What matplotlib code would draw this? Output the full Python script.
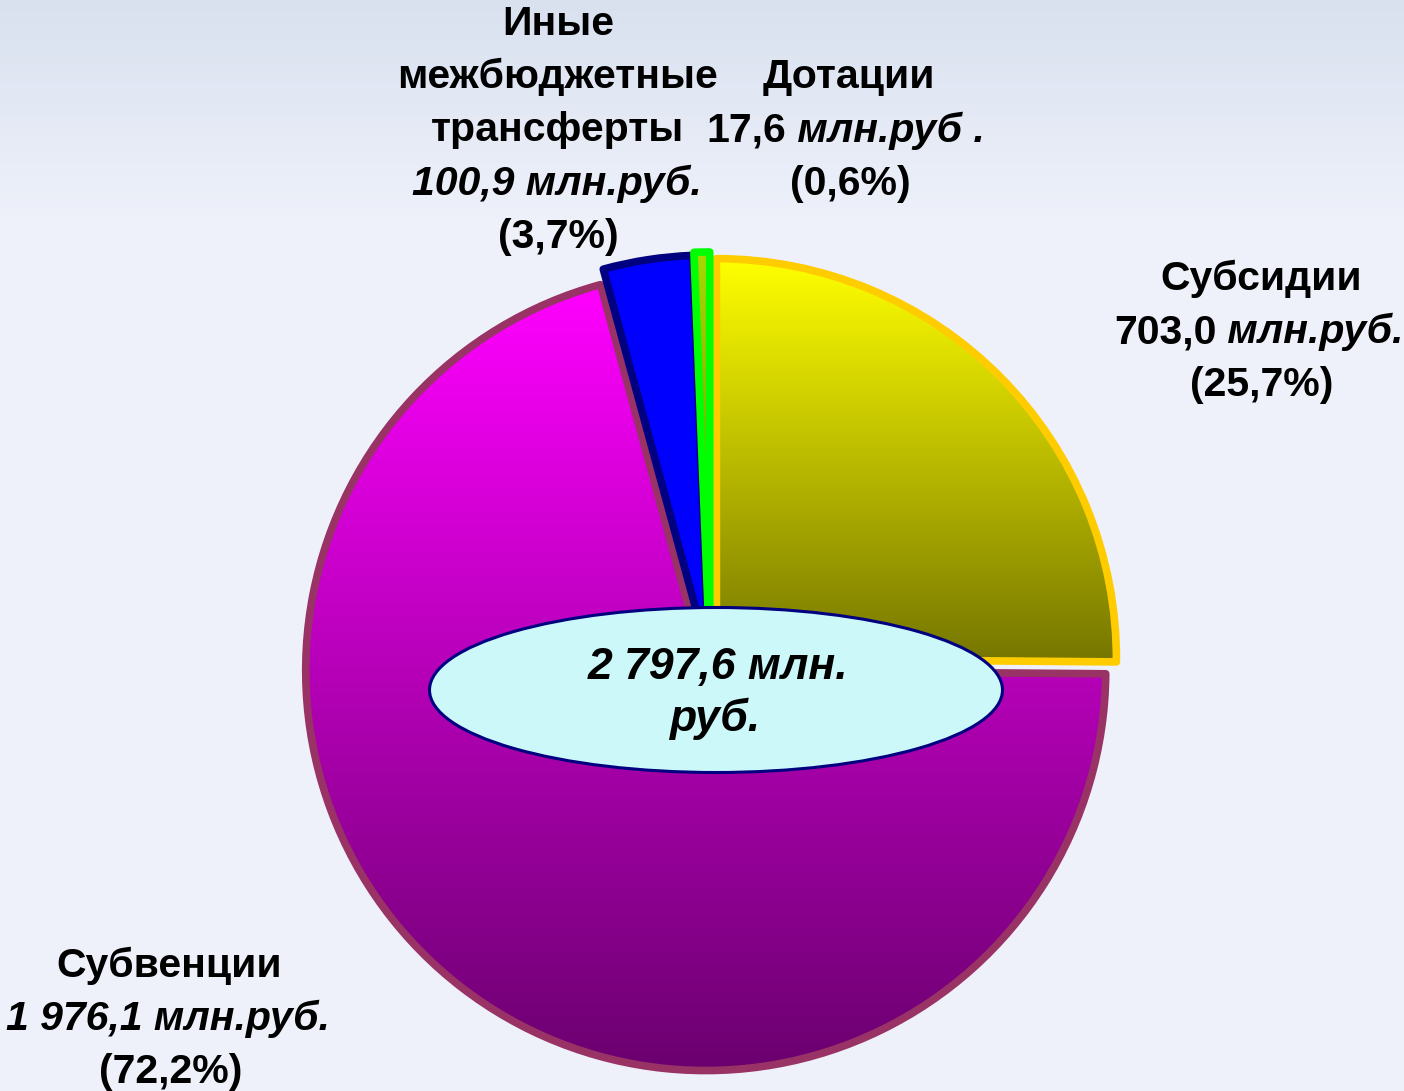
import numpy as np
import matplotlib
matplotlib.use('Agg')
import matplotlib.pyplot as plt
from matplotlib.patches import Ellipse
from matplotlib.colors import to_rgb

plt.rcParams['font.family'] = ['Liberation Sans', 'DejaVu Sans']

# data
names = ['Субсидии', 'Субвенции', 'Иные межбюджетные трансферты', 'Дотации']
values = [703.0, 1976.1, 100.9, 17.6]
amounts = ['703,0', '1 976,1', '100,9', '17,6']
shares = ['25,7%', '72,2%', '3,7%', '0,6%']
total = '2 797,6'

# styles
top_colors = ['#FFFF00', '#FF00FF', '#0000FF', '#A8D800']
bottom_colors = ['#767600', '#6A006E', '#0000FF', '#5E8A00']
edge_colors = ['#FFCC00', '#993366', '#000080', '#00FF00']
explode = [9, 7, 10, 13]

W, H = 1404, 1091
fig = plt.figure(figsize=(W / 100, H / 100), dpi=100)
ax = fig.add_axes([0, 0, 1, 1])

# background
t = np.linspace(0, 1, 300)[:, None]
bg_top = np.array(to_rgb('#D9E1EF'))
bg_low = np.array(to_rgb('#EEF1FA'))
k = np.clip((1 - t) / 0.2, 0, 1)  # 0 near top
bg = (bg_top * (1 - k) + bg_low * k)[:, None, :]
ax.imshow(bg, extent=(0, W, H, 0), aspect='auto', zorder=0)

wedges, _ = ax.pie(values, explode=explode, startangle=90, counterclock=False,
                   center=(710, H - 665), radius=400,
                   wedgeprops=dict(linewidth=5.5, joinstyle='round'))

for w, c1, c2, ec in zip(wedges, top_colors, bottom_colors, edge_colors):
    v = w.get_path().vertices
    x0, x1 = v[:, 0].min(), v[:, 0].max()
    y0, y1 = v[:, 1].min(), v[:, 1].max()
    g = np.linspace(0, 1, 256)[:, None]
    grad = np.array(to_rgb(c2)) * (1 - g) + np.array(to_rgb(c1)) * g
    im = ax.imshow(grad[:, None, :], extent=(x0, x1, y0, y1), origin='lower',
                   aspect='auto', zorder=1, interpolation='bilinear')
    im.set_clip_path(w)
    w.set_facecolor('none')
    w.set_edgecolor(ec)
    w.set_zorder(2)

ax.add_patch(Ellipse((716, H - 690), 573, 165, facecolor='#CCF8FA',
                     edgecolor='#000080', lw=2.2, zorder=4))

ax.set_xlim(0, W)
ax.set_ylim(0, H)
ax.axis('off')

renderer = fig.canvas.get_renderer()


def line(x, ybase, parts, size=29.5):
    texts = [ax.text(0, H - ybase, s, fontsize=size, fontweight='bold',
                     fontstyle=st, ha='left', va='baseline', zorder=5)
             for s, st in parts]
    ws = [tx.get_window_extent(renderer).width for tx in texts]
    xs = x - sum(ws) / 2
    for tx, wd in zip(texts, ws):
        tx.set_x(xs)
        xs += wd


# Субсидии
line(1261, 290, [(names[0], 'normal')])
line(1259, 343, [(amounts[0], 'normal'), (' млн.руб.', 'italic')])
line(1262, 396, [(f'({shares[0]})', 'normal')])

# Дотации
line(849, 88, [(names[3], 'normal')])
line(846, 142, [(amounts[3], 'normal'), (' млн.руб .', 'italic')])
line(850, 195, [(f'({shares[3]})', 'normal')])

# Иные межбюджетные трансферты
for i, word in enumerate(names[2].split()):
    line(558, 35 + 53 * i, [(word, 'normal')])
line(557, 195, [(amounts[2] + ' млн.руб.', 'italic')])
line(558, 248, [(f'({shares[2]})', 'normal')])

# Субвенции
line(169, 977, [(names[1], 'normal')])
line(168, 1030, [(amounts[1] + ' млн.руб.', 'italic')])
line(171, 1083, [(f'({shares[1]})', 'normal')])

# total in the middle
line(718, 679, [(total + ' млн.', 'italic')], size=32)
line(716, 731, [('руб.', 'italic')], size=32)

fig.savefig('out.png', dpi=100)
